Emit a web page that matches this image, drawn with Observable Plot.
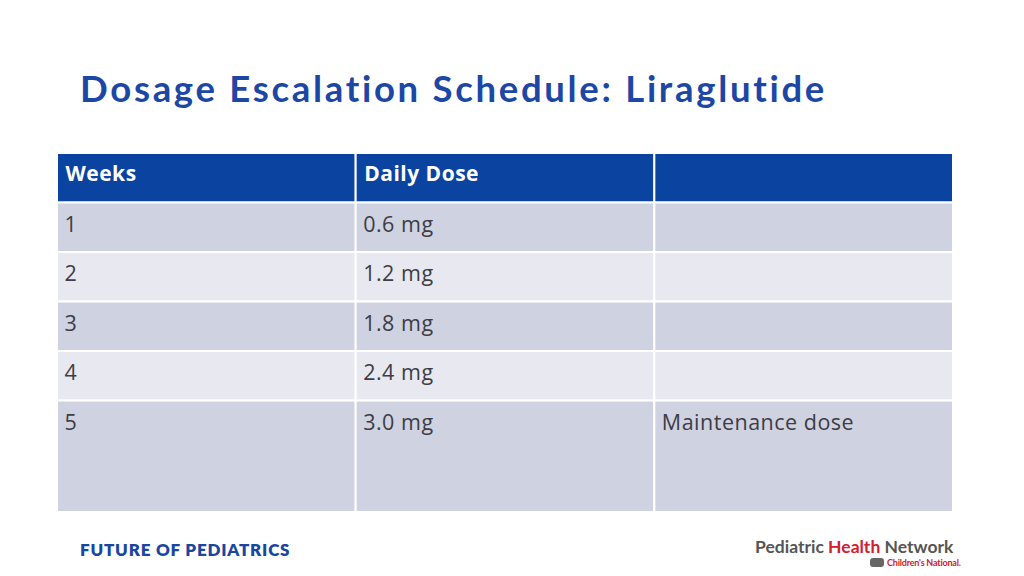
<!DOCTYPE html>
<html><head><meta charset="utf-8">
<script src="https://cdn.jsdelivr.net/npm/d3@7"></script>
<script src="https://cdn.jsdelivr.net/npm/@observablehq/plot@0.6"></script>
<style>
body{margin:0;width:1024px;height:576px;background:#fff;position:relative;overflow:hidden;font-family:"Open Sans",sans-serif}
#title{position:absolute;left:80px;top:66px;font-family:Lato,sans-serif;font-weight:700;font-size:36.5px;color:#1c47a5;white-space:nowrap;letter-spacing:2.7px}
#chart{position:absolute;left:0;top:153px}
#foot{position:absolute;left:80px;top:539px;font-family:Lato,sans-serif;font-weight:800;font-size:17px;color:#1a46a0;letter-spacing:0.8px}
#logo{position:absolute;left:755px;top:536px;font-family:Lato,sans-serif;font-weight:700;font-size:17.5px;color:#555;white-space:nowrap}
#logo .r{color:#d0202e}
#cn{position:absolute;left:870px;top:557px;font-family:Lato,sans-serif;font-weight:700;font-size:9px;color:#d0202e;white-space:nowrap;letter-spacing:-0.2px}
#cn .ic{display:inline-block;width:14px;height:9px;background:#666;border-radius:3px;margin-right:3px;vertical-align:-1px}
</style></head>
<body>
<div id="title">Dosage Escalation Schedule: Liraglutide</div>
<div id="chart"></div>
<div id="foot">FUTURE OF PEDIATRICS</div>
<div id="logo">Pediatric <span class="r">Health</span> Network</div>
<div id="cn"><span class="ic"></span>Children's National.</div>
<script>
const headers = ["Weeks", "Daily Dose", ""];
const weeks = ["1", "2", "3", "4", "5"];
const doses = ["0.6 mg", "1.2 mg", "1.8 mg", "2.4 mg", "3.0 mg"];
const notes = ["", "", "", "", "Maintenance dose"];

// layout: row heights in row units (header, 5 body rows; last row taller)
const spans = [1, 1, 1, 1, 1, 2.25];
const starts = [];
let acc = 0;
for (const s of spans) { starts.push(acc); acc += s; }
const total = acc;

const rows = [headers, ...weeks.map((w, i) => [w, doses[i], notes[i]])];
const cells = [];
rows.forEach((row, r) => {
  row.forEach((t, c) => {
    cells.push({
      x1: c, x2: c + 1,
      y1: starts[r], y2: starts[r] + spans[r],
      text: t,
      header: r === 0,
      fill: r === 0 ? "#0a44a0" : (r % 2 === 1 ? "#cfd2e1" : "#e8e9f0")
    });
  });
});

const chart = Plot.plot({
  width: 1024,
  height: 359,
  marginLeft: 57,
  marginRight: 71,
  marginTop: 0,
  marginBottom: 0,
  x: {domain: [0, 3], axis: null},
  y: {domain: [0, total], axis: null, reverse: true},
  style: {background: "transparent"},
  marks: [
    Plot.rect(cells, {x1: "x1", x2: "x2", y1: "y1", y2: "y2", fill: "fill", stroke: "white", strokeWidth: 2}),
    Plot.text(cells.filter(d => d.header), {
      x: "x1", y: d => d.y1 + 0.41, text: "text", dx: 8, textAnchor: "start",
      fill: "white", fontSize: 21, fontWeight: 700, fontFamily: "Open Sans"
    }),
    Plot.text(cells.filter(d => !d.header), {
      x: "x1", y: d => d.y1 + 0.44, text: "text", dx: 7, textAnchor: "start",
      fill: "#3d3d44", fontSize: 21.5, fontFamily: "Open Sans"
    })
  ]
});
chart.querySelectorAll("text").forEach(t => t.style.letterSpacing = "0.5px");
document.getElementById("chart").appendChild(chart);
</script>
</body></html>
